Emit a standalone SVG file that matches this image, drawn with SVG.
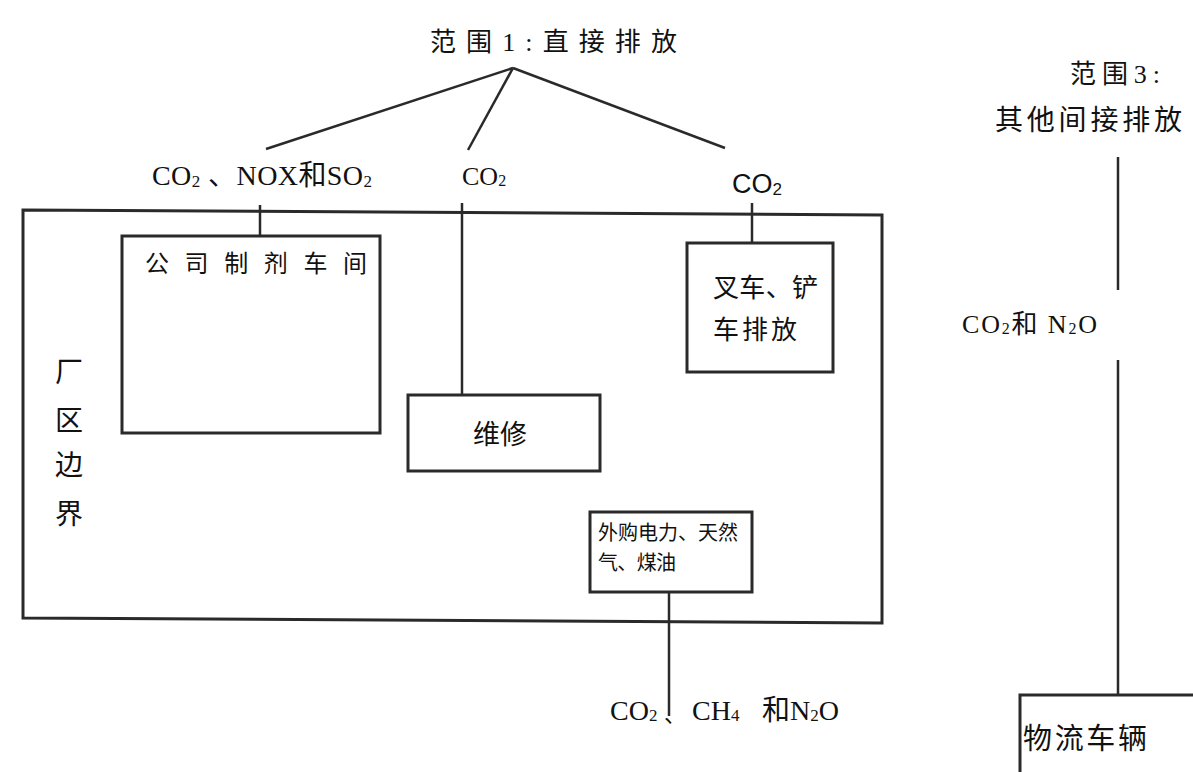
<svg xmlns="http://www.w3.org/2000/svg" width="1193" height="772" viewBox="0 0 1193 772">
<style>
.box{fill:none;stroke:#2a2a2a;stroke-width:3}
.ln{fill:none;stroke:#2a2a2a;stroke-width:2.5}
.serif{font-family:"Liberation Serif","Noto Sans CJK SC",serif;fill:#111}
.sans{font-family:"Noto Sans CJK SC","Liberation Sans",sans-serif;fill:#111}
.arial{font-family:"Liberation Sans",Arial,sans-serif;fill:#111}
</style>
<rect width="1193" height="772" fill="#ffffff"/>
<g id="connectors">
<path class="ln" d="M513,68 L266,149"/>
<path class="ln" d="M513,68 L468,150"/>
<path class="ln" d="M513,68 L725,148"/>
<path class="ln" d="M260,205 V236"/>
<path class="ln" d="M462,203 V395"/>
<path class="ln" d="M752,203 V243"/>
<path class="ln" d="M669,592 V716"/>
<path class="ln" d="M1118,157 V290"/>
<path class="ln" d="M1118,360 V695"/>
</g>
<g id="title-scope1">
<text class="serif" x="430" y="51" font-size="26" textLength="247" lengthAdjust="spacing">范围1:直接排放</text>
</g>
<g id="label-left">
<text class="serif" x="152" y="185" font-size="28" textLength="220" lengthAdjust="spacing">CO<tspan font-size="17" dy="2">2</tspan><tspan dy="-2"> 、NOX和SO</tspan><tspan font-size="17" dy="2">2</tspan></text>
</g>
<g id="label-mid">
<text class="serif" x="462" y="185" font-size="26">CO<tspan font-size="16" dy="1">2</tspan></text>
</g>
<g id="label-right">
<text class="arial" x="732" y="193" font-size="27">CO<tspan font-size="17" dy="2">2</tspan></text>
</g>
<g id="plant-boundary">
<path class="box" d="M23,210 L882,215 L882,623 L23,618 Z"/>
<text class="serif" x="69" y="382" font-size="28" text-anchor="middle">厂</text>
<text class="serif" x="69" y="431" font-size="28" text-anchor="middle">区</text>
<text class="serif" x="69" y="475" font-size="28" text-anchor="middle">边</text>
<text class="serif" x="69" y="524" font-size="28" text-anchor="middle">界</text>
</g>
<g id="workshop">
<rect class="box" x="122" y="236" width="258" height="197"/>
<text class="serif" x="145" y="272" font-size="24" textLength="222" lengthAdjust="spacing">公司制剂车间</text>
</g>
<g id="maintenance">
<rect class="box" x="408" y="395" width="192" height="76"/>
<text class="sans" x="473" y="444" font-size="27">维修</text>
</g>
<g id="forklift">
<rect class="box" x="687" y="243" width="146" height="129"/>
<text class="sans" x="713" y="297" font-size="26" textLength="105" lengthAdjust="spacing">叉车、铲</text>
<text class="sans" x="713" y="339" font-size="26" textLength="84" lengthAdjust="spacing">车排放</text>
</g>
<g id="purchased">
<rect class="box" x="590" y="512" width="162" height="80"/>
<text class="serif" x="598" y="540" font-size="20" textLength="140" lengthAdjust="spacing">外购电力、天然</text>
<text class="serif" x="598" y="570" font-size="20" textLength="78" lengthAdjust="spacing">气、煤油</text>
</g>
<g id="label-bottom">
<text class="serif" x="610" y="720" font-size="28">CO<tspan font-size="17" dy="1">2</tspan></text>
<text class="serif" x="664" y="722" font-size="22">、</text>
<text class="serif" x="692" y="720" font-size="28">CH<tspan font-size="17" dy="1">4</tspan></text>
<text class="serif" x="762" y="720" font-size="28">和N<tspan font-size="17" dy="1">2</tspan><tspan dy="-1">O</tspan></text>
</g>
<g id="title-scope3">
<text class="serif" x="1070" y="83" font-size="26" textLength="90" lengthAdjust="spacing">范围3:</text>
<text class="serif" x="995" y="130" font-size="28" textLength="187" lengthAdjust="spacing">其他间接排放</text>
</g>
<g id="label-scope3">
<text class="serif" x="962" y="333" font-size="26" textLength="135" lengthAdjust="spacing">CO<tspan font-size="16" dy="1">2</tspan><tspan dy="-1">和 N</tspan><tspan font-size="16" dy="1">2</tspan><tspan dy="-1">O</tspan></text>
</g>
<g id="logistics">
<path class="box" d="M1020,772 V695 H1193"/>
<text class="serif" x="1023" y="749" font-size="29" textLength="124" lengthAdjust="spacing">物流车辆</text>
</g>
</svg>
